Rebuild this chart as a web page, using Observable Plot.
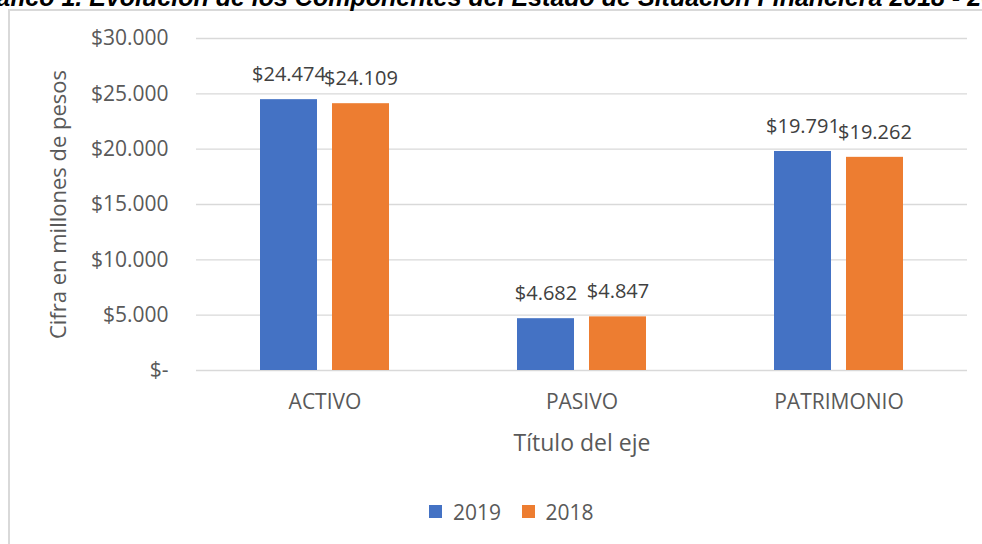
<!DOCTYPE html>
<html>
<head>
<meta charset="utf-8">
<script src="https://cdn.jsdelivr.net/npm/d3@7"></script>
<script src="https://cdn.jsdelivr.net/npm/@observablehq/plot@0.6"></script>
<style>
  html, body { margin: 0; padding: 0; background: #fff; overflow: hidden; }
  #wrap { position: relative; width: 982px; height: 544px; overflow: hidden; }
  #title { position: absolute; top: -15px; left: -33px; white-space: nowrap;
    font-family: "Liberation Sans", Arial, sans-serif; font-weight: bold; font-style: italic;
    font-size: 25px; line-height: 25px; color: #000; }
  #frame { position: absolute; left: 8px; top: 9px; width: 1100px; height: 700px;
    border: 2px solid #d9d9d9; box-sizing: border-box; }
  #chart { position: absolute; left: 0; top: 0; }
  #legend { position: absolute; left: 0; top: 495px; width: 1044px; display: flex; justify-content: center; }
</style>
</head>
<body>
<div id="wrap">
  <div id="frame"></div>
  <div id="title">Gráfico 1. Evolución de los Componentes del Estado de Situación Financiera 2018 - 2019</div>
  <div id="chart"></div>
  <div id="legend"></div>
</div>
<script>
const categories = ["ACTIVO", "PASIVO", "PATRIMONIO"];
const series = ["2019", "2018"];
const values2019 = [24474, 4682, 19791];
const values2018 = [24109, 4847, 19262];
const colors = ["#4472c4", "#ed7d31"];
const yTicks = [0, 5000, 10000, 15000, 20000, 25000, 30000];
const yTitle = "Cifra en millones de pesos";
const xTitle = "Título del eje";

const data = [];
categories.forEach((c, i) => {
  data.push({cat: c, year: "2019", value: values2019[i]});
  data.push({cat: c, year: "2018", value: values2018[i]});
});

const money = v => v === 0 ? "$-" : "$" + d3.format(",")(v).replace(/,/g, ".");
const font = "'Open Sans', sans-serif";

const chart = Plot.plot({
  width: 982,
  height: 470,
  marginTop: 38,
  marginBottom: 100,
  marginLeft: 195,
  marginRight: 14,
  style: {fontFamily: font, background: "transparent", overflow: "visible"},
  fx: {domain: categories, padding: 0},
  x: {domain: series, paddingInner: 0.205, paddingOuter: 0.868, axis: null},
  y: {domain: [0, 30000]},
  color: {domain: series, range: colors},
  marks: [
    Plot.gridY(yTicks, {stroke: "#d9d9d9", strokeOpacity: 1, strokeWidth: 1.3}),
    Plot.axisY(yTicks, {
      tickSize: 0, tickPadding: 28, tickFormat: money, fontSize: 21, color: "#595959", label: null
    }),
    Plot.axisY([], {
      tickSize: 0, fontSize: 22, color: "#595959",
      label: yTitle, labelAnchor: "center", labelArrow: false, labelOffset: 146
    }),
    Plot.axisFx({
      anchor: "bottom", tickSize: 0, tickPadding: 24, fontSize: 21, color: "#595959", label: null
    }),
    Plot.axisFx({
      anchor: "bottom", ticks: [], tickSize: 0, fontSize: 23, color: "#595959",
      label: xTitle, labelAnchor: "center", labelArrow: false, labelOffset: 80
    }),
    Plot.barY(data, {fx: "cat", x: "year", y: "value", fill: "year"}),
    Plot.text(data, {fx: "cat", x: "year", y: "value", text: d => money(d.value),
      dy: -25, fontSize: 20, fill: "#404040"})
  ]
});
document.getElementById("chart").appendChild(chart);

const legend = Plot.legend({
  color: {domain: series, range: colors},
  swatchSize: 13,
  style: {fontFamily: font, fontSize: "21px", color: "#595959", margin: 0}
});
document.getElementById("legend").appendChild(legend);
</script>
</body>
</html>
